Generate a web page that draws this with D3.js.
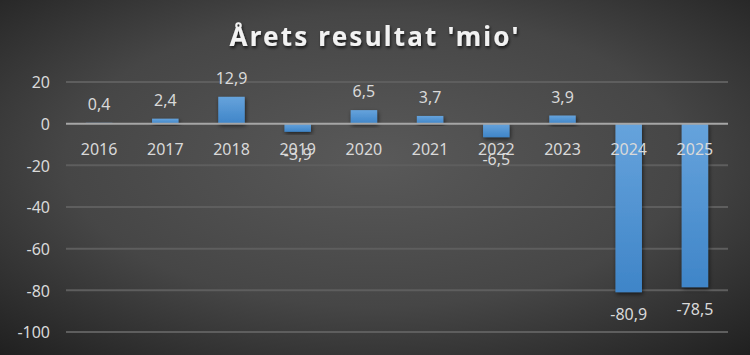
<!DOCTYPE html>
<html>
<head>
<meta charset="utf-8">
<script src="https://cdn.jsdelivr.net/npm/d3@7"></script>
<style>
  html, body { margin: 0; padding: 0; background: #333; }
  svg { display: block; }
</style>
</head>
<body>
<div id="chart"></div>
<script>
// Data
const years = ['2016', '2017', '2018', '2019', '2020', '2021', '2022', '2023', '2024', '2025'];
const results = [0.4, 2.4, 12.9, -3.9, 6.5, 3.7, -6.5, 3.9, -80.9, -78.5];
const yTicks = [20, 0, -20, -40, -60, -80, -100];
const chartTitle = "Årets resultat 'mio'";

// Layout
const W = 750, H = 355;
const PLOT_L = 66, PLOT_R = 728, PLOT_T = 82, PLOT_B = 332;

const locale = d3.formatLocale({ decimal: ',', thousands: '.', grouping: [3], currency: ['', ''], minus: '-' });
const fmtVal = locale.format('.1f');
const fmtTick = locale.format('d');

const svg = d3.select('#chart').append('svg')
  .attr('width', W).attr('height', H)
  .attr('viewBox', `0 0 ${W} ${H}`);

const defs = svg.append('defs');

// background radial gradient (light centre, dark edges)
const bg = defs.append('radialGradient')
  .attr('id', 'bgGrad')
  .attr('cx', '50%').attr('cy', '45%').attr('r', '75%')
  .attr('gradientUnits', 'objectBoundingBox');
bg.append('stop').attr('offset', '0%').attr('stop-color', '#595959');
bg.append('stop').attr('offset', '55%').attr('stop-color', '#464646');
bg.append('stop').attr('offset', '100%').attr('stop-color', '#1f1f1f');

// bar gradient
const barGrad = defs.append('linearGradient')
  .attr('id', 'barGrad')
  .attr('x1', '0%').attr('y1', '0%').attr('x2', '0%').attr('y2', '100%');
barGrad.append('stop').attr('offset', '0%').attr('stop-color', '#66a3dc');
barGrad.append('stop').attr('offset', '100%').attr('stop-color', '#3f85c8');

// shadows
const shadow = defs.append('filter').attr('id', 'shadow')
  .attr('x', '-30%').attr('y', '-30%').attr('width', '160%').attr('height', '160%');
shadow.append('feDropShadow')
  .attr('dx', 1).attr('dy', 2).attr('stdDeviation', 2)
  .attr('flood-color', '#000').attr('flood-opacity', 0.6);

const titleShadow = defs.append('filter').attr('id', 'titleShadow')
  .attr('x', '-10%').attr('y', '-30%').attr('width', '120%').attr('height', '160%');
titleShadow.append('feDropShadow')
  .attr('dx', 1).attr('dy', 2).attr('stdDeviation', 1.5)
  .attr('flood-color', '#000').attr('flood-opacity', 0.7);

svg.append('rect')
  .attr('width', W).attr('height', H)
  .attr('fill', 'url(#bgGrad)');

// Scales
const x = d3.scaleBand().domain(years).range([PLOT_L, PLOT_R]).paddingInner(0.6).paddingOuter(0.3);
const y = d3.scaleLinear().domain([-100, 20]).range([PLOT_B, PLOT_T]);

// Gridlines
svg.append('g').attr('class', 'grid')
  .selectAll('line').data(yTicks.filter(d => d !== 0)).enter().append('line')
  .attr('x1', PLOT_L).attr('x2', PLOT_R)
  .attr('y1', d => y(d)).attr('y2', d => y(d))
  .attr('stroke', '#5e5e5e')
  .attr('stroke-width', 2);

// Y axis labels
const yAxis = svg.append('g')
  .attr('transform', `translate(${PLOT_L - 16},0)`)
  .call(d3.axisLeft(y).tickValues(yTicks).tickFormat(fmtTick).tickSize(0).tickPadding(0));
yAxis.select('.domain').remove();
yAxis.selectAll('text')
  .attr('fill', '#d9d9d9')
  .attr('font-family', '"Noto Sans", sans-serif')
  .attr('font-size', 16)
  .attr('dy', '0.36em');

// Bars
svg.append('g').attr('class', 'bars')
  .selectAll('rect').data(results).enter().append('rect')
  .attr('x', (d, i) => x(years[i]))
  .attr('width', x.bandwidth())
  .attr('y', d => y(Math.max(0, d)))
  .attr('height', d => Math.abs(y(d) - y(0)))
  .attr('fill', 'url(#barGrad)')
  .attr('filter', 'url(#shadow)');

// Zero line
svg.append('line')
  .attr('x1', PLOT_L).attr('x2', PLOT_R)
  .attr('y1', y(0)).attr('y2', y(0))
  .attr('stroke', '#a6a6a6')
  .attr('stroke-width', 2);

// Category labels (just under the zero line)
svg.append('g').attr('class', 'cats')
  .selectAll('text').data(years).enter().append('text')
  .attr('x', d => x(d) + x.bandwidth() / 2)
  .attr('y', y(0) + 31)
  .attr('text-anchor', 'middle')
  .attr('fill', '#d9d9d9')
  .attr('font-family', '"Noto Sans", sans-serif')
  .attr('font-size', 16)
  .text(d => d);

// Data labels
svg.append('g').attr('class', 'labels')
  .selectAll('text').data(results).enter().append('text')
  .attr('x', (d, i) => x(years[i]) + x.bandwidth() / 2)
  .attr('y', d => d >= 0 ? y(d) - 13 : y(d) + 28)
  .attr('text-anchor', 'middle')
  .attr('fill', '#d9d9d9')
  .attr('font-family', '"Noto Sans", sans-serif')
  .attr('font-size', 16)
  .text(d => fmtVal(d));

// Title
svg.append('text')
  .attr('x', W / 2)
  .attr('y', 46)
  .attr('text-anchor', 'middle')
  .attr('fill', '#f2f2f2')
  .attr('font-family', '"Noto Sans", sans-serif')
  .attr('font-weight', 'bold')
  .attr('font-size', 26)
  .attr('letter-spacing', 2.2)
  .attr('filter', 'url(#titleShadow)')
  .text(chartTitle);
</script>
</body>
</html>
